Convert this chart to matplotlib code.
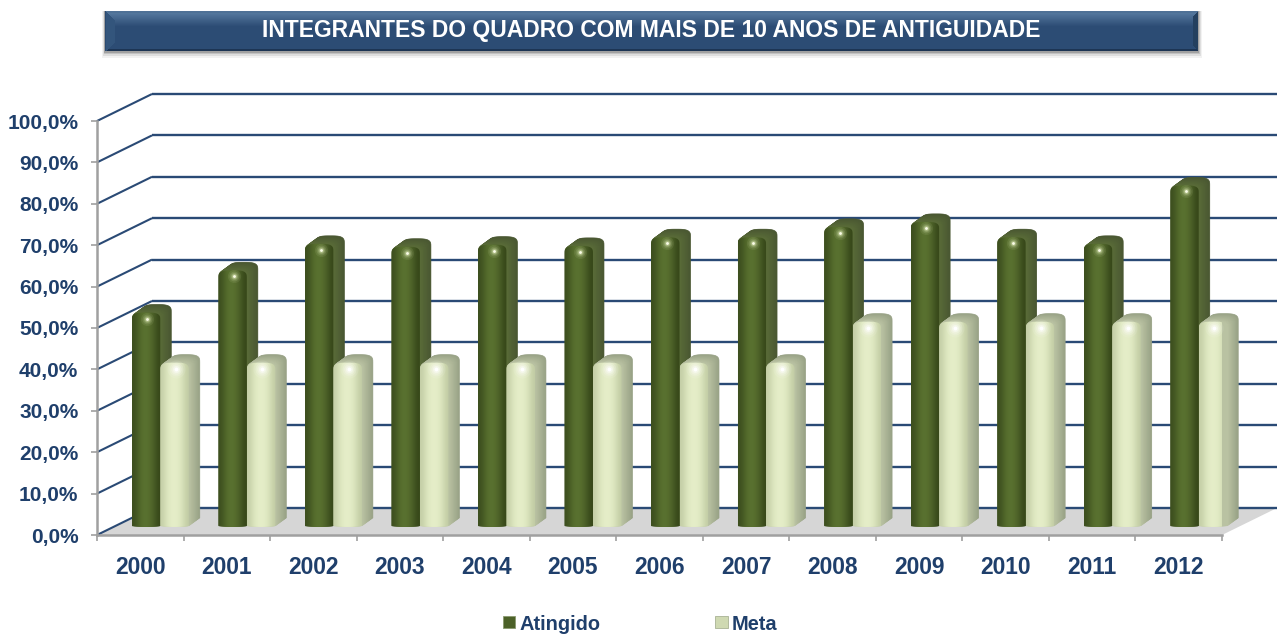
import numpy as np
import matplotlib
matplotlib.use('Agg')
import matplotlib.pyplot as plt
from matplotlib.patches import PathPatch, Patch, Polygon, Rectangle
from matplotlib.path import Path
from matplotlib.transforms import Affine2D
from matplotlib.colors import to_rgb

plt.rcParams['font.family'] = ['Liberation Sans', 'DejaVu Sans']

title = 'INTEGRANTES DO QUADRO COM MAIS DE 10 ANOS DE ANTIGUIDADE'
years = ['2000', '2001', '2002', '2003', '2004', '2005', '2006', '2007', '2008', '2009', '2010', '2011', '2012']
atingido = [51.8, 62, 68.4, 67.7, 68.2, 67.9, 70, 70, 72.5, 73.7, 70, 68.4, 82.5]
meta = [39.7, 39.7, 39.7, 39.7, 39.7, 39.7, 39.7, 39.7, 49.6, 49.6, 49.6, 49.6, 49.6]
yticks = list(range(0, 101, 10))
ytick_labels = ['0,0%', '10,0%', '20,0%', '30,0%', '40,0%', '50,0%', '60,0%', '70,0%', '80,0%', '90,0%', '100,0%']

NAVY = '#1f3f6b'
W, H = 1279, 635
fig = plt.figure(figsize=(W / 100, H / 100), dpi=100, facecolor='white')


def px_axes(x0, y0, x1, y1, **kw):
    return fig.add_axes([x0 / W, 1 - y1 / H, (x1 - x0) / W, (y1 - y0) / H], **kw)


# ---- banner -----
for off, a in ((7, .06), (5, .10), (3, .16), (1.5, .22)):
    fig.add_artist(Rectangle(((105 - off / 2) / W, 1 - (51 + off) / H), (1093 + off) / W, (40 + off) / H,
                             transform=fig.transFigure, fc='#303030', ec='none', alpha=a, zorder=-5))
bx = px_axes(105, 11, 1198, 51)
bx.set_axis_off()
bh, bw = 40, 1093
yy, xx = np.mgrid[0:bh, 0:bw]
img = np.zeros((bh, bw, 3))
base = np.array(to_rgb('#2c4c74'))
top = np.array(to_rgb('#5a7da3'))
t = np.clip(1 - yy / 15, 0, 1)[..., None]
img[:] = base * (1 - t) + top * t
img[yy <= 1] = to_rgb('#4f7196')
img[yy >= bh - 2] = to_rgb('#1d3554')
left = (xx < 10) & (yy > xx * 0.9) & (yy < bh - xx * 0.9)
img[left] = to_rgb('#33557c')
right = (xx > bw - 6) & (bw - xx < yy + 1) & (bw - xx < bh - yy)
img[right] = to_rgb('#24405f')
img[:, :1] = to_rgb('#2a4a70')
bx.imshow(img, aspect='auto', interpolation='bilinear')
bx.text(0.5, 0.5, title, transform=bx.transAxes, ha='center', va='center', color='white',
        fontsize=16.5, fontweight='bold')

# ---- plot axes (front plane) ----
X0, X1, Y0, Y1 = 97, 1222, 535, 121
ax = px_axes(X0, Y1, X1, Y0)
ax.set_facecolor('none')
ax.set_xlim(0, 13)
ax.set_ylim(0, 100)
PXY = (Y0 - Y1) / 100
PXX = (X1 - X0) / 13
back = ax.transData + Affine2D().translate(55, 27)
depth = ax.transData + Affine2D().translate(20, 8)

# floor
floor_front = ax.transData.transform([(0, 0), (13, 0)])
floor_back = back.transform([(13, 0), (0, 0)])
ax.add_patch(Polygon(np.vstack([floor_front, floor_back]), closed=True, transform=None,
                     fc='#d6d6d6', ec='none', zorder=1, clip_on=False))

# gridlines: floor-to-wall depth segment + back wall
for v in yticks:
    a = ax.transData.transform((0, v))
    b = back.transform((0, v))
    c = back.transform((13, v))
    ax.plot([a[0], b[0]], [a[1], b[1]], transform=None, color='#2a4a75', lw=1.5, zorder=2,
            clip_on=False, solid_capstyle='butt')
    ax.plot([b[0], c[0]], [b[1], c[1]], transform=None, color='#2a4a75', lw=1.7, zorder=2,
            clip_on=False, solid_capstyle='butt')


def bar_shape(x0, x1, v):
    rx = (x1 - x0) / 2
    ry = 7.5 / PXY
    th = np.linspace(np.pi, 0, 40)
    ex = 0.6
    tx = x0 + rx + rx * np.sign(np.cos(th)) * np.abs(np.cos(th)) ** ex
    ty = v - ry + ry * np.abs(np.sin(th)) ** ex
    th2 = np.linspace(0, -np.pi, 16)
    bx_ = x0 + rx + rx * np.cos(th2)
    by_ = 0.28 + 0.28 * np.sin(th2)
    pts = np.column_stack([np.r_[tx, bx_], np.r_[ty, by_]])
    return Path(np.vstack([pts, pts[:1]]), closed=True)


def draw_bar(x0, x1, v, cols, side_far, side_near, hl_core, hl_glow, hl_sizes, z):
    path = bar_shape(x0, x1, v)
    n = 14
    for k in range(n, 0, -1):
        f = k / n
        col = np.array(to_rgb(side_far)) * f + np.array(to_rgb(side_near)) * (1 - f)
        tr = depth + Affine2D().translate(11 * f, 8 * f)
        ax.add_patch(PathPatch(path, transform=tr, fc=col, ec=col, lw=.5, zorder=z, clip_on=False))
    grad = np.array([to_rgb(c) for c in cols])[None, :, :]
    im = ax.imshow(grad, extent=(x0, x1, 0, v), aspect='auto', interpolation='bicubic',
                   transform=depth, zorder=z + .1, clip_on=True)
    im.set_clip_path(PathPatch(path, transform=depth))
    # specular highlight
    cx = x0 + (x1 - x0) * 0.55
    cy = v - 6 / PXY
    for s, a in zip(hl_sizes, (.10, .16, .24, .4)):
        ax.scatter([cx], [cy], s=s, color=hl_glow, alpha=a, lw=0, transform=depth, zorder=z + .2, clip_on=False)
    ax.scatter([cx], [cy], s=hl_sizes[-1] * .3, color=hl_core, lw=0, transform=depth, zorder=z + .3, clip_on=False)


DARK = ['#3d4f1f', '#4a5f26', '#58702f', '#5a7230', '#546a2c', '#465a25', '#374819']
LIGHT = ['#c5cfa8', '#d8e2ba', '#e3ecc6', '#e6eec9', '#e2ebc5', '#d6e0b8', '#c3cda6']
BW = 28.5 / PXX
for i, (a_val, m_val) in enumerate(zip(atingido, meta)):
    c = i + .5
    z = 3 + i
    draw_bar(c - BW, c, a_val, DARK, '#4a5732', '#5a6c38', '#fbfde8', '#d4e0ac', (90, 50, 26, 14), z)
    draw_bar(c, c + BW, m_val, LIGHT, '#98a286', '#bcc4a4', '#ffffff', '#ffffff', (170, 100, 56, 26), z + .5)

ax.set_xlim(0, 13)
ax.set_ylim(0, 100)

# ---- axes and ticks ----
for s in ('top', 'right'):
    ax.spines[s].set_visible(False)
for s in ('left', 'bottom'):
    ax.spines[s].set_color('#a0a0a0')
    ax.spines[s].set_linewidth(1.8)
    ax.spines[s].set_zorder(30)
ax.set_yticks(yticks)
ax.set_yticklabels(ytick_labels, color=NAVY, fontsize=15, fontweight='bold')
ax.set_xticks(np.arange(0, 14))
ax.set_xticklabels([])
ax.set_xticks(np.arange(13) + .5, minor=True)
ax.set_xticklabels(years, minor=True, color=NAVY, fontsize=16.4, fontweight='bold')
ax.tick_params(axis='x', which='major', length=4.5, width=1.2, color='#a0a0a0')
ax.tick_params(axis='x', which='minor', length=0, pad=15)
ax.tick_params(axis='y', length=4.5, width=1.2, color='#a0a0a0', pad=9)

# ---- legend ----
handles = [Patch(fc='#4c6128', ec='#8a9a70', lw=.6), Patch(fc='#cfd9b2', ec='#a8b294', lw=.6)]
fig.legend(handles, ['Atingido', 'Meta'], ncol=2, frameon=False, loc='center',
           bbox_to_anchor=(640 / W, 1 - 624 / H), prop={'size': 14.4, 'weight': 'bold'}, labelcolor=NAVY,
           handlelength=.62, handleheight=.55, handletextpad=.2, columnspacing=5.75)

fig.savefig('out.png', dpi=100, facecolor='white')
